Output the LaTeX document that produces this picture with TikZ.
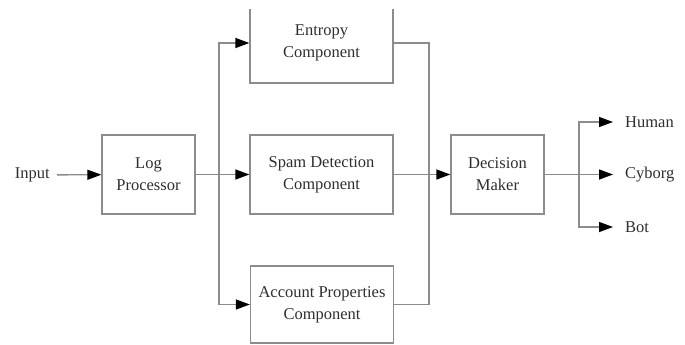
\documentclass[tikz,border=0pt]{standalone}
\usepackage{fontspec}
\setmainfont{Liberation Serif}
\usetikzlibrary{arrows.meta,calc}
\definecolor{linegray}{HTML}{8C8C8C}
\definecolor{textgray}{HTML}{2E2E2E}
\begin{document}
\begin{tikzpicture}[x=1pt,y=-1pt,
  box/.style={draw=linegray,line width=1.3pt,minimum width=143pt,minimum height=79pt,align=center,
    text=textgray,font=\fontsize{16.5}{22}\selectfont,inner sep=0pt},
  smallbox/.style={box,minimum width=93pt},
  lbl/.style={text=textgray,font=\fontsize{16.5}{20}\selectfont,inner ysep=0pt},
  conn/.style={draw=linegray,line width=1.3pt},
  arr/.style={conn,-{Triangle[length=14pt,width=10pt,black]}}]
\useasboundingbox (0,0) rectangle (685,345);
% boxes
\begin{scope}
\clip (0,10) rectangle (685,345);
\node[box,minimum height=80pt] (entropy) at (321.5,43) {Entropy\\Component};
\end{scope}
\node[box] (spam) at (321.5,174.5) {Spam Detection\\Component};
\node[box,minimum height=77pt] (account) at (322,304.5) {Account Properties\\Component};
\node[smallbox] (log) at (148.5,174.5) {Log\\Processor};
\node[smallbox] (decision) at (497.5,174.5) {Decision\\Maker};
% labels
\node[lbl,anchor=east,inner xsep=7pt] (input) at (57,175) {Input};
\node[lbl,anchor=west,inner xsep=12pt] (human) at (613,122) {Human};
\node[lbl,anchor=west,inner xsep=12pt] (cyborg) at (613,174.5) {Cyborg};
\node[lbl,anchor=west,inner xsep=12pt] (bot) at (613,227) {Bot};
% junctions
\coordinate (sp) at (219,174.5);
\coordinate (mg) at (429,174.5);
\coordinate (os) at (579,174.5);
% connectors
\draw[arr] (input) -- (log);
\draw[arr] (log) -- (spam);
\draw[arr] (sp) |- (entropy.west);
\draw[arr] (sp) |- (account.west);
\draw[conn] (entropy.east) -| (mg);
\draw[conn] (account.east) -| (mg);
\draw[arr] (spam) -- (decision);
\draw[conn] (decision.east) -- (os);
\draw[arr] (os) |- (human.west);
\draw[arr] (os) -- (cyborg.west);
\draw[arr] (os) |- (bot.west);
\end{tikzpicture}
\end{document}
